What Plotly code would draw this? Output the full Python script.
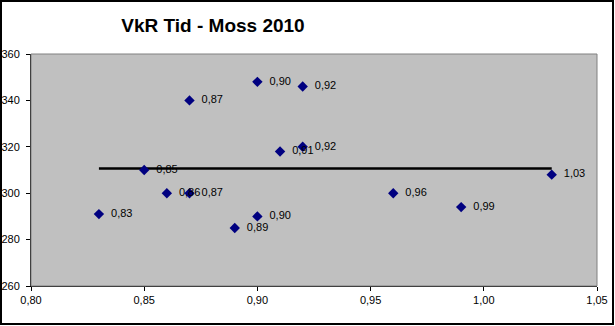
import plotly.graph_objects as go

x_vals = [0.83, 0.85, 0.86, 0.87, 0.87, 0.89, 0.90, 0.90, 0.91, 0.92, 0.92, 0.96, 0.99, 1.03]
y_vals = [291, 310, 300, 300, 340, 285, 290, 348, 318, 320, 346, 300, 294, 308]
labels = ["0,83", "0,85", "0,86", "0,87", "0,87", "0,89", "0,90", "0,90", "0,91", "0,92", "0,92", "0,96", "0,99", "1,03"]
trend_x = [0.83, 1.03]
trend_y = [310.7, 310.7]
x_ticks = [0.80, 0.85, 0.90, 0.95, 1.00, 1.05]
y_ticks = [260, 280, 300, 320, 340, 360]

W, H = 615, 326
L, R, T, B = 31, 18, 54, 40
pw, ph = W - L - R, H - T - B

fig = go.Figure()
fig.add_trace(go.Scatter(
    x=trend_x, y=trend_y, mode="lines",
    line=dict(color="black", width=2.5), hoverinfo="skip", showlegend=False))
fig.add_trace(go.Scatter(
    x=x_vals, y=y_vals, mode="markers+text", text=labels,
    texttemplate="  %{text}",
    textposition="middle right",
    textfont=dict(family="Arial, Liberation Sans", size=11, color="black"),
    marker=dict(symbol="diamond", size=8, color="#000080"),
    showlegend=False))

fig.update_layout(
    width=W, height=H,
    margin=dict(l=L, r=R, t=T, b=B),
    paper_bgcolor="white", plot_bgcolor="#C0C0C0",
    separators=", ",
    font=dict(family="Arial, Liberation Sans", size=11, color="black"),
    title=dict(text="<b>VkR Tid - Moss 2010</b>", x=213 / W, xanchor="center",
               y=1 - 25 / H, yanchor="middle",
               font=dict(family="Arial, Liberation Sans", size=19, color="black")),
    xaxis=dict(range=[0.80, 1.05], tickvals=x_ticks, tickformat=".2f", automargin=False,
               showgrid=False, zeroline=False, showline=True, linecolor="black", linewidth=1,
               mirror=False, ticks="outside", ticklen=4, tickcolor="black",
               tickfont=dict(size=11)),
    yaxis=dict(range=[260, 360], tickvals=y_ticks, automargin=False,
               showgrid=False, zeroline=False, showline=True, linecolor="black", linewidth=1,
               ticks="outside", ticklen=4, tickcolor="black", ticklabelstandoff=4,
               tickfont=dict(size=11)),
    shapes=[
        dict(type="rect", xref="paper", yref="paper", x0=0, x1=1, y0=0, y1=1,
             line=dict(color="#808080", width=1)),
        dict(type="rect", xref="paper", yref="paper",
             x0=(1 - L) / pw, x1=(613 - L) / pw,
             y0=-(324 - T - ph) / ph,
             y1=(ph + T - 1) / ph,
             line=dict(color="black", width=2)),
    ],
)
fig.write_html("out.html")
